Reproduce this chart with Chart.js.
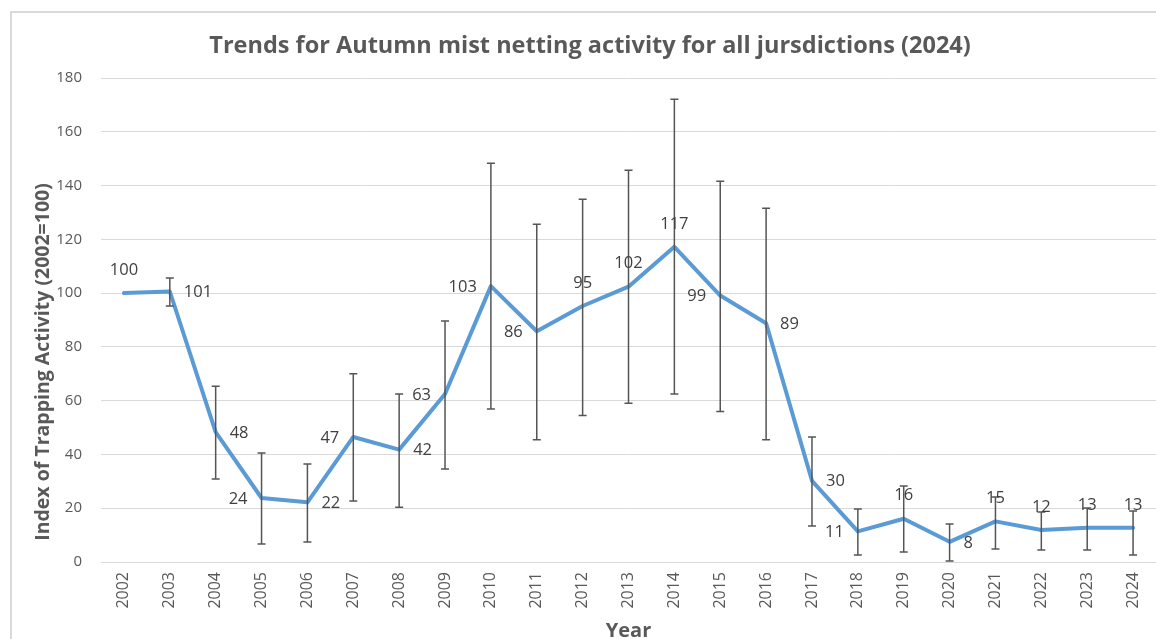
<!DOCTYPE html>
<html>
<head>
<meta charset="utf-8">
<script src="https://cdn.jsdelivr.net/npm/chart.js@4.4.1/dist/chart.umd.min.js"></script>
<style>
  html, body { margin: 0; padding: 0; background: #fff; overflow: hidden; width: 1156px; height: 639px; }
  #frame { position: absolute; left: 10px; top: 11px; width: 1200px; height: 700px; border-left: 2px solid #d9d9d9; border-top: 2px solid #d9d9d9; }
  #wrap { position: absolute; left: 0; top: 0; width: 1156px; height: 655px; }
</style>
</head>
<body>
<div id="frame"></div>
<div id="wrap"><canvas id="c" width="1156" height="655"></canvas></div>
<script>
const years = ['2002','2003','2004','2005','2006','2007','2008','2009','2010','2011','2012','2013','2014','2015','2016','2017','2018','2019','2020','2021','2022','2023','2024'];
const indexValues = [100, 100.6, 48.3, 23.8, 22.2, 46.5, 41.8, 62.5, 102.6, 85.8, 95.2, 102.4, 117.2, 99.1, 88.8, 30.2, 11.4, 16.1, 7.5, 15.1, 11.9, 12.7, 12.7];
const errorHigh = [null, 105.6, 65.4, 40.5, 36.4, 70.0, 62.5, 89.6, 148.3, 125.6, 134.9, 145.7, 172.1, 141.6, 131.6, 46.5, 19.7, 28.3, 14.1, 24.2, 18.6, 20.1, 19.0];
const errorLow  = [null, 95.2, 30.9, 6.7, 7.4, 22.7, 20.4, 34.6, 56.9, 45.5, 54.5, 59.0, 62.5, 56.0, 45.5, 13.4, 2.6, 3.7, 0.4, 4.8, 4.5, 4.5, 2.6];
const yTicks = [0, 20, 40, 60, 80, 100, 120, 140, 160, 180];
const yTitle = 'Index of Trapping Activity (2002=100)';

const labelPlacement = ['above','right','right','left','right','left','right','left','left','left','above','above','above','left','right','right','left','above','right','above','above','above','above'];

const errorBarsPlugin = {
  id: 'errorBars',
  afterDatasetsDraw(chart) {
    const ctx = chart.ctx;
    const xs = chart.scales.x, ys = chart.scales.y;
    ctx.save();
    ctx.strokeStyle = '#555555';
    ctx.lineWidth = 1.5;
    for (let i = 0; i < years.length; i++) {
      if (errorHigh[i] == null) continue;
      const x = xs.getPixelForValue(i);
      const yh = ys.getPixelForValue(errorHigh[i]);
      const yl = ys.getPixelForValue(errorLow[i]);
      ctx.beginPath();
      ctx.moveTo(x, yh); ctx.lineTo(x, yl);
      ctx.moveTo(x - 4, yh); ctx.lineTo(x + 4, yh);
      ctx.moveTo(x - 4, yl); ctx.lineTo(x + 4, yl);
      ctx.stroke();
    }
    ctx.restore();
  }
};

const dataLabelsPlugin = {
  id: 'dataLabels',
  afterDatasetsDraw(chart) {
    const ctx = chart.ctx;
    const meta = chart.getDatasetMeta(0);
    ctx.save();
    ctx.font = '16.5px "Open Sans"';
    ctx.fillStyle = '#404040';
    meta.data.forEach((pt, i) => {
      const txt = String(Math.round(indexValues[i]));
      const pos = labelPlacement[i];
      let x = pt.x, y = pt.y;
      if (pos === 'above') { ctx.textAlign = 'center'; ctx.textBaseline = 'middle'; y -= 23; }
      else if (pos === 'right') { ctx.textAlign = 'left'; ctx.textBaseline = 'middle'; x += 14; y += 1; }
      else { ctx.textAlign = 'right'; ctx.textBaseline = 'middle'; x -= 14; y += 1; }
      ctx.fillText(txt, x, y);
    });
    ctx.restore();
  }
};

const yTitlePlugin = {
  id: 'yTitle',
  afterDraw(chart) {
    const ctx = chart.ctx;
    ctx.save();
    ctx.translate(43, 362);
    ctx.rotate(-Math.PI / 2);
    ctx.font = 'bold 19.5px "Open Sans"';
    ctx.fillStyle = '#595959';
    ctx.textAlign = 'center';
    ctx.textBaseline = 'middle';
    ctx.fillText(yTitle, 0, 0);
    ctx.restore();
  }
};

new Chart(document.getElementById('c'), {
  type: 'line',
  data: {
    labels: years,
    datasets: [{
      data: indexValues,
      borderColor: '#5B9BD5',
      borderWidth: 4,
      pointRadius: 0,
      tension: 0,
      borderJoinStyle: 'round',
      borderCapStyle: 'round',
      fill: false
    }]
  },
  options: {
    responsive: false,
    animation: false,
    devicePixelRatio: 1,
    layout: { padding: { left: 24, right: 0, top: 0, bottom: 0 } },
    plugins: {
      legend: { display: false },
      tooltip: { enabled: false },
      title: {
        display: true,
        text: 'Trends for Autumn mist netting activity for all jursdictions (2024)',
        color: '#595959',
        font: { family: '"Open Sans"', size: 23.5, weight: 'bold', lineHeight: 1.2 },
        padding: { top: 32, bottom: 17.8 }
      }
    },
    scales: {
      x: {
        type: 'category',
        offset: true,
        grid: { display: false, drawTicks: false },
        border: { display: false },
        ticks: { color: '#595959', font: { family: '"Open Sans"', size: 16 }, minRotation: 90, maxRotation: 90, padding: 10, autoSkip: false },
        title: { display: true, text: 'Year', color: '#595959', font: { family: '"Open Sans"', size: 20, weight: 'bold', lineHeight: 1.2 }, padding: { top: 0, bottom: 12 } },
        afterFit(scale) { scale.height = 93; scale.paddingRight = 0; scale.paddingLeft = 0; }
      },
      y: {
        min: 0, max: 180,
        afterBuildTicks(scale) { scale.ticks = yTicks.map(v => ({ value: v })); },
        grid: { color: '#d9d9d9', lineWidth: 1, drawTicks: false },
        border: { display: false },
        ticks: { color: '#595959', font: { family: '"Open Sans"', size: 15 }, padding: 19 },
        title: { display: false },
        afterFit(scale) { scale.width = 77; }
      }
    }
  },
  plugins: [errorBarsPlugin, dataLabelsPlugin, yTitlePlugin]
});
</script>
</body>
</html>
